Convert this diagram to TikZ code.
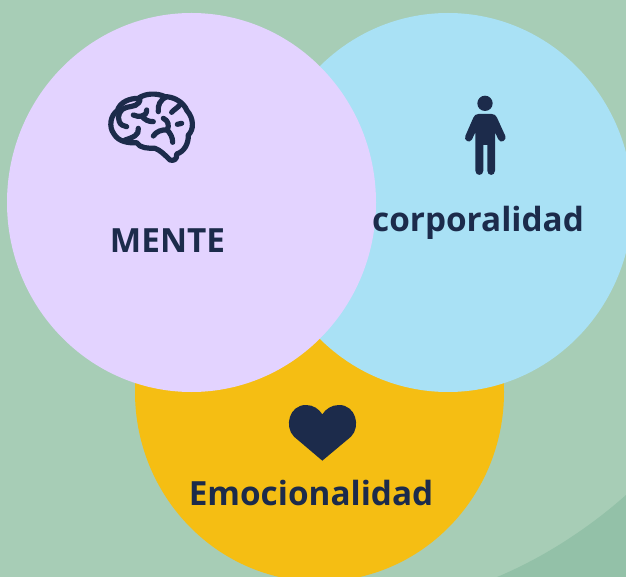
\documentclass[tikz,border=0pt]{standalone}
\usepackage{fontspec}
\setmainfont{Open Sans}
\definecolor{bgA}{HTML}{A7CDB6}
\definecolor{bgB}{HTML}{93C1A8}
\definecolor{mentec}{HTML}{E3D3FF}
\definecolor{corpc}{HTML}{A9E1F5}
\definecolor{emoc}{HTML}{F5BE13}
\definecolor{navy}{HTML}{1C2B4B}
\tikzset{
  blob/.style={ellipse,minimum width=369pt,minimum height=379pt,inner sep=0pt,outer sep=0pt},
  lbl/.style={text=navy,font=\bfseries\fontsize{33.3}{40}\selectfont,inner sep=0pt,anchor=base},
  brainline/.style={draw=navy,line width=5.2pt,line cap=round,line join=round},
  ico/.style={x=0.3333pt,y=-0.3333pt}
}
\usetikzlibrary{shapes.geometric}
\begin{document}
\begin{tikzpicture}[x=1pt,y=-1pt]
\useasboundingbox (0,0) rectangle (626,577);
\fill[bgA] (0,0) rectangle (626,577);
\fill[bgB] (497,577) .. controls (545,557) and (590,527) .. (626,495) -- (626,577) -- cycle;
\node[blob,fill=emoc] (emo) at (319.5,392) {};
\node[blob,fill=corpc] (corp) at (448,202.5) {};
\node[blob,fill=mentec] (mente) at (191.5,202.5) {};
\node[lbl] (tm) at (167.5,253) {MENTE};
\node[lbl] (tc) at (478,232) {corporalidad};
\node[lbl] (te) at (311,505) {Emocionalidad};
% brain
\begin{scope}[shift={(90,80)},ico]
\draw[brainline] (240,240) .. controls (250,243) and (262,240) .. (260,222)
  .. controls (283,215) and (296,190) .. (295,165)
  .. controls (312,150) and (312,115) .. (291,92)
  .. controls (280,65) and (250,50) .. (225,50)
  .. controls (200,38) and (165,40) .. (145,55)
  .. controls (120,55) and (90,65) .. (82,92)
  .. controls (62,105) and (55,140) .. (72,162)
  .. controls (85,185) and (115,190) .. (140,188)
  .. controls (150,205) and (175,205) .. (195,205)
  .. controls (210,210) and (225,225) .. (240,240) -- cycle;
\draw[brainline] (150,52) .. controls (152,80) and (125,78) .. (110,82) .. controls (90,85) and (80,110) .. (88,125) .. controls (92,135) and (100,138) .. (110,140);
\draw[brainline] (130,105) .. controls (145,112) and (170,112) .. (170,90);
\draw[brainline] (155,108) .. controls (165,120) and (175,125) .. (190,125);
\draw[brainline] (145,145) .. controls (148,165) and (130,172) .. (105,180);
\draw[brainline] (205,95) .. controls (203,75) and (210,60) .. (230,50);
\draw[brainline] (245,97) .. controls (250,90) and (262,85) .. (272,72);
\draw[brainline] (220,115) .. controls (235,122) and (238,135) .. (232,150) .. controls (240,160) and (248,170) .. (248,187);
\draw[brainline] (232,150) .. controls (215,148) and (198,155) .. (190,168);
\draw[brainline] (262,133) -- (275,130);
\end{scope}
% person
\begin{scope}[shift={(440,85)},ico]
\fill[navy] (135,55) circle (23);
\fill[navy] (115,87) -- (155,87) .. controls (163,87) and (168,91) .. (171,98)
  -- (196,153) .. controls (201,165) and (182,178) .. (175,163)
  -- (165,142) -- (165,257) .. controls (165,274) and (142,274) .. (142,257)
  -- (142,180) -- (130,180) -- (130,257) .. controls (130,274) and (106,274) .. (106,257)
  -- (106,142) -- (96,163) .. controls (89,178) and (70,165) .. (76,153)
  -- (100,98) .. controls (103,91) and (108,87) .. (115,87) -- cycle;
\end{scope}
% heart
\begin{scope}[shift={(270,395)},ico]
\fill[navy] (157,197) -- (72,125) .. controls (42,95) and (57,30) .. (108,30)
  .. controls (130,30) and (147,42) .. (157,58)
  .. controls (167,42) and (185,30) .. (207,30)
  .. controls (258,30) and (273,95) .. (243,125) -- cycle;
\end{scope}
\end{tikzpicture}
\end{document}
